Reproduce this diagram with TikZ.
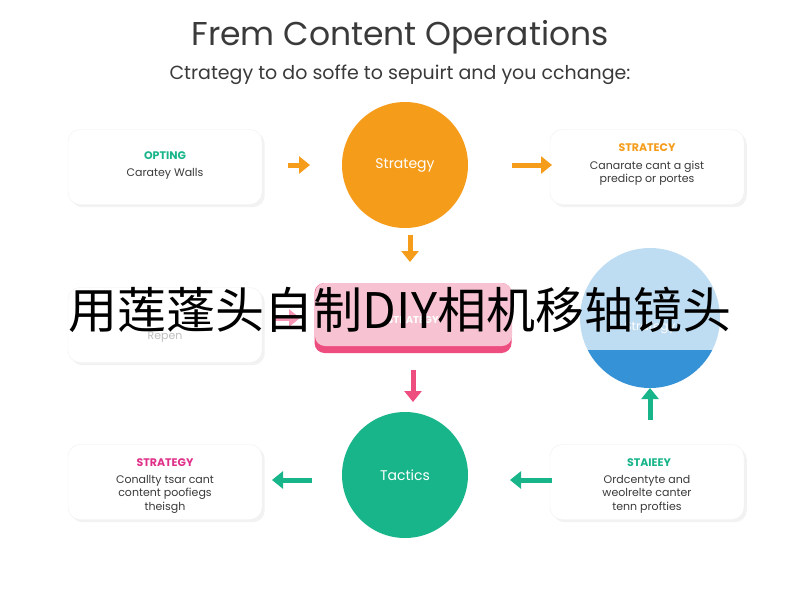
\documentclass[tikz,border=0pt]{standalone}
\usepackage{fontspec}
\setmainfont{Poppins}
\newfontfamily\cjk{Noto Sans CJK SC}
\usetikzlibrary{arrows.meta,shadows}
\definecolor{org}{HTML}{F59C1A}
\definecolor{grn}{HTML}{19B58A}
\definecolor{pnk}{HTML}{F7C3D2}
\definecolor{pnkd}{HTML}{EE4D80}
\definecolor{blu}{HTML}{BFDDF2}
\definecolor{blud}{HTML}{3692D6}
\definecolor{mag}{HTML}{E0308A}
\definecolor{txt}{HTML}{3A3A3A}
\begin{document}
\begin{tikzpicture}[x=1pt,y=-1pt,
  card/.style={draw=gray!12,fill=white,rounded corners=12pt,minimum width=194pt,minimum height=75pt,drop shadow={opacity=0.1}},
  lbl/.style={font=\fontsize{11}{13.5}\selectfont\color{txt},align=center},
  head/.style={font=\fontsize{11}{13}\selectfont\bfseries},
  arr/.style={line width=5pt,-{Triangle[length=11pt,width=17pt]}},
  circ/.style={circle,minimum size=126pt,inner sep=0pt,font=\fontsize{14}{16}\selectfont,text=white}]
\useasboundingbox (0,0) rectangle (800,600);
\fill[white] (0,0) rectangle (800,600);
\node (title) at (400,37) {\fontsize{33}{36}\selectfont\color{txt}Frem Content Operations};
\node (sub) at (400,75) {\fontsize{19}{22}\selectfont\color{txt}Ctrategy to do soffe to sepuirt and you cchange:};
% top row
\node[card] (c1) at (165,167) {};
\node[head,text=grn] (c1h) at (165,156) {OPTING};
\node[lbl] (c1t) at (165,174) {Caratey Walls};
\node[circ,fill=org] (s1) at (405,165) {Strategy};
\node[card] (c2) at (647,167) {};
\node[head,text=org] (c2h) at (647,148) {STRATECY};
\node[lbl] (c2t) at (647,173) {Canarate cant a gist\\predicp or portes};
\draw[arr,org] (288,165) -- (310,165);
\draw[arr,org] (512,165) -- (552,165);
\draw[arr,org] (410,235) -- (410,262);
% middle row
\node[card] (c3) at (165,325) {};
\node[lbl,text=gray!50] (c3t) at (165,337) {Repen};
\node[fill=pnkd,rounded corners=10pt,minimum width=197pt,minimum height=70pt] (m) at (413,318) {};
\fill[pnk,rounded corners=10pt] (315,283) rectangle (512,346);
\node[text=white,font=\bfseries\fontsize{10}{12}\selectfont] (mt) at (413,320) {STRATEGY};
\begin{scope}
\clip (650,318) circle (70);
\fill[blu] (580,248) rectangle (720,350);
\fill[blud] (580,350) rectangle (720,388);
\end{scope}
\node[circle,minimum size=140pt] (b) at (650,318) {};
\node[text=white,font=\fontsize{12}{14}\selectfont] (bt) at (650,328) {Strategy};
\draw[arr,pnkd!60] (272,318) -- (300,318);
\draw[arr,pnkd] (413,370) -- (413,402);
\draw[arr,grn] (650,420) -- (650,388);
% bottom row
\node[circ,fill=grn] (s2) at (405,475) {Tactics};
\node[card] (c4) at (165,482) {};
\node[head,text=mag] (c4h) at (165,463) {STRATEGY};
\node[lbl] (c4t) at (165,494) {Conallty tsar cant\\content poofiegs\\theisgh};
\node[card] (c5) at (647,482) {};
\node[head,text=grn] (c5h) at (649,463) {STAIEEY};
\node[lbl] (c5t) at (647,494) {Ordcentyte and\\weolrelte canter\\tenn profties};
\draw[arr,grn] (312,480) -- (272,480);
\draw[arr,grn] (552,480) -- (510,480);
% overlay
\node[font=\cjk\fontsize{49}{53}\selectfont,text=black] (ov) at (400,310) {用莲蓬头自制DIY相机移轴镜头};
\end{tikzpicture}
\end{document}
